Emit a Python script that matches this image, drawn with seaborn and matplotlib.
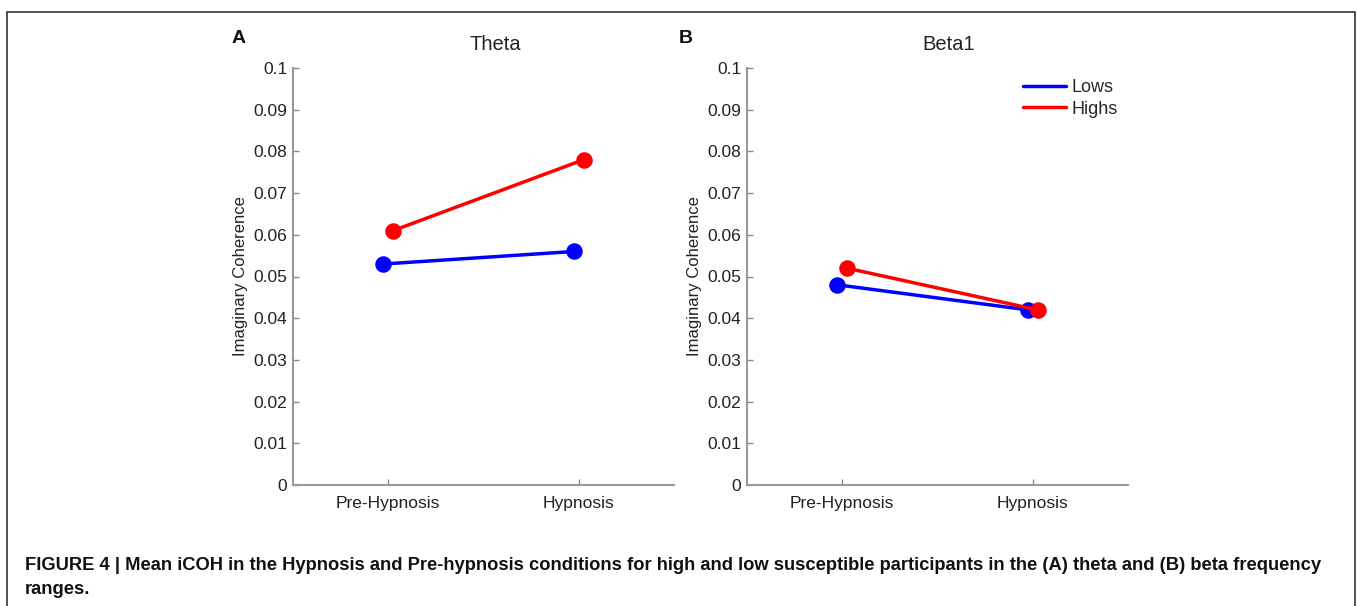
import numpy as np
import pandas as pd
import seaborn as sns
import matplotlib
matplotlib.use("Agg")
import matplotlib.pyplot as plt
from matplotlib.patches import Rectangle
from matplotlib.ticker import FuncFormatter

# 資料
conditions = ['Pre-Hypnosis', 'Hypnosis']
groups = ['Lows', 'Highs']
theta_lows = [0.053, 0.056]
theta_highs = [0.061, 0.078]
beta_lows = [0.048, 0.042]
beta_highs = [0.052, 0.042]
yticks = [0, 0.01, 0.02, 0.03, 0.04, 0.05, 0.06, 0.07, 0.08, 0.09, 0.1]

def make_df(lows, highs):
    rows = []
    for g, vals in zip(groups, [lows, highs]):
        for c, v in zip(conditions, vals):
            rows.append({'cond': c, 'group': g, 'icoh': v})
    return pd.DataFrame(rows)

sns.set_theme(style="white")
plt.rcParams['font.family'] = ['Liberation Sans', 'DejaVu Sans']

fig = plt.figure(figsize=(13.57, 6.06), dpi=100)
fig.patch.set_facecolor('white')

# 外框
fig.patches.append(Rectangle((7/1357, -0.02), 1348/1357, 1.02 - 12/606,
                             transform=fig.transFigure, fill=False,
                             edgecolor='#333333', linewidth=1.2))

palette = {'Lows': '#0000ff', 'Highs': '#ff0000'}
panels = [('Theta', 'A', theta_lows, theta_highs, 293, -0.161),
          ('Beta1', 'B', beta_lows, beta_highs, 747, -0.18)]

for title, letter, lows, highs, left_px, letter_x in panels:
    ax = fig.add_axes([left_px/1357, (606-485)/606, 381/1357, (485-68)/606])
    df = make_df(lows, highs)
    sns.pointplot(data=df, x='cond', y='icoh', hue='group', order=conditions,
                  hue_order=groups, palette=palette, dodge=0.05, errorbar=None,
                  markers='o', markersize=10, linewidth=2.5, ax=ax)
    ax.set_xlim(-0.5, 1.5)
    ax.set_ylim(0, 0.1)
    ax.set_yticks(yticks)
    ax.yaxis.set_major_formatter(FuncFormatter(lambda v, p: '%g' % round(v, 3)))
    ax.set_xlabel('')
    ax.set_ylabel('Imaginary Coherence', fontsize=12, color='#222222', labelpad=4)
    ax.set_title(title, fontsize=14.5, color='#222222', pad=13, x=0.53)
    ax.tick_params(axis='both', direction='in', length=4, width=1, colors='#888888',
                   labelcolor='#222222', labelsize=12.5, left=True, bottom=True, pad=4)
    ax.tick_params(axis='x', pad=8)
    for s in ['top', 'right']:
        ax.spines[s].set_visible(False)
    for s in ['left', 'bottom']:
        ax.spines[s].set_color('#999999')
        ax.spines[s].set_linewidth(1.5)
    ax.text(letter_x, 1.07, letter, transform=ax.transAxes, fontsize=14,
            fontweight='bold', color='#111111', va='center', ha='left')
    if letter == 'B':
        leg = ax.legend(loc='upper left', bbox_to_anchor=(0.70, 0.995), frameon=False,
                        fontsize=13, handlelength=2.4, handletextpad=0.3,
                        labelspacing=0.25, borderpad=0)
        for h in leg.get_lines():
            h.set_marker('')
            h.set_linewidth(2.5)
    else:
        ax.get_legend().remove()

cap1 = ('FIGURE 4 | Mean iCOH in the Hypnosis and Pre-hypnosis conditions for high and low '
        'susceptible participants in the (A) theta and (B) beta frequency')
t1 = fig.text(25/1357, 1 - 565/606, cap1, fontsize=12, fontweight='bold', va='center',
              ha='left', color='#111111')
t2 = fig.text(25/1357, 1 - 590/606, 'ranges.', fontsize=12, fontweight='bold', va='center',
              ha='left', color='#111111')
# 調整字體大小讓標題寬度符合
fig.canvas.draw()
w = t1.get_window_extent().width
fs = 12 * 1293 / w
t1.set_fontsize(fs)
t2.set_fontsize(fs)

plt.savefig('out.png', dpi=100)
